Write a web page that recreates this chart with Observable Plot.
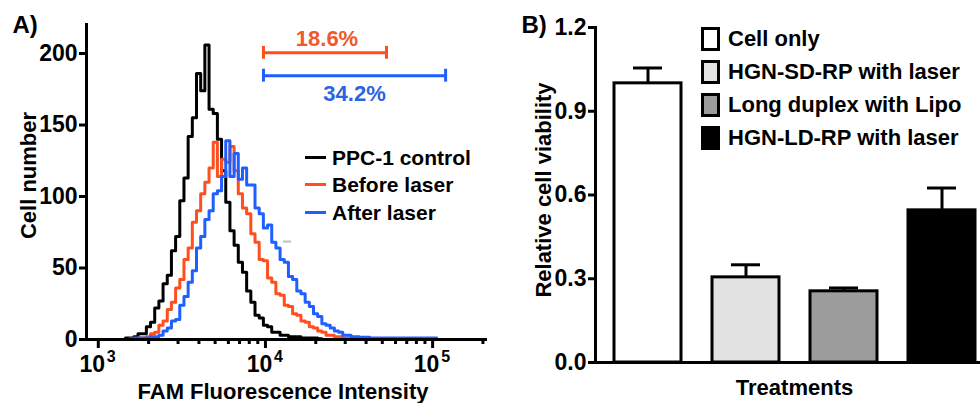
<!DOCTYPE html>
<html><head><meta charset="utf-8">
<script src="https://cdn.jsdelivr.net/npm/d3@7"></script>
<script src="https://cdn.jsdelivr.net/npm/@observablehq/plot@0.6"></script>
<style>
body{margin:0;background:#fff;}
#wrap{position:relative;width:980px;height:403px;overflow:hidden;background:#fff;font-family:"Liberation Sans",Arial,Helvetica,sans-serif;font-weight:bold;color:#000;}
#wrap svg{position:absolute;top:0;}
.row{position:absolute;height:24px;display:flex;align-items:center;white-space:nowrap;font-size:21px;line-height:1;}
.sw{display:inline-block;width:21px;height:3px;margin-right:6px;}
.box{display:inline-block;width:19px;height:24px;box-sizing:border-box;border:3px solid #000;margin-right:8px;}
</style>
</head><body>
<div id="wrap"></div>
<script>
// ---------- Panel A data: FAM fluorescence histogram ----------
const fluorescence = [1413,1496,1585,1679,1778,1884,1995,2113,2239,2371,2512,2661,2818,2985,3162,3350,3548,3758,3981,4217,4467,4732,5012,5309,5623,5957,6310,6683,7079,7499,7943,8414,8913,9441,10000,10593,11220,11885,12589,13335,14125,14962,15849,16788,17783,18836,19953,21135,22387,23714,25119,26607,28184,29854,31623,33497,35481,37584,39811,44668,50119,56234,63096,70795,79433,89125,100000,112202];
const ppc1Control = [0,1,1,2,4,4,9,12,22,27,39,45,62,72,97,113,142,155,186,174,206,161,158,140,118,96,76,66,54,47,34,26,17,15,10,9,5,5,3,3,2,2,2,1,1,1,1,0.5,0,0,0,0,0,0,0,0,0,0,0,0,0,0,0,0,0,0,0,0];
const beforeLaser = [0,0,0,0.5,1,1,2,4,5,10,13,21,26,36,42,56,64,82,90,102,110,120,138,114,126,124,135,118,102,92,88,74,68,56,55,43,40,32,31,24,23,18,17,13,12,9,8,6,5,3,3,2,2,1,1,1,0.5,0.5,0.5,0.5,0.5,0,0,0,0.5,0,0,0];
const afterLaser = [0,0,0.5,1,1,1,1,2,2,3,6,8,13,14,24,30,40,48,64,72,84,90,102,104,114,139,114,130,112,120,108,108,92,88,78,80,68,64,56,54,44,42,34,32,26,23,18,16,11,10,8,6,5,3,3,2,2,1.5,1.5,1,1,1,1,1,1,1,1,0];
const seriesNames = ["PPC-1 control","Before laser","After laser"];
const seriesColors = ["#000000","#ff4f1f","#1f5fff"];
const yTicksA = [0,50,100,150,200];
const xMajorTicks = [1000,10000,100000];
const xMajorExp = ["3","4","5"];
const xMinorTicks = [2000,3000,4000,5000,6000,7000,8000,9000,20000,30000,40000,50000,60000,70000,80000,90000,200000];
const gateLabels = ["18.6%","34.2%"];
const gateStart = [9730, 9730];
const gateEnd = [53000, 119600];
const gateLevel = [200.5, 184.5];
const gateLineColors = ["#ff4f1f","#1f5fff"];
const gateTextColors = ["#ef5a2a","#2b64e3"];
const markerSegment = [{x1: 12830, x2: 14320, y: 68.5}];

// ---------- Panel B data: relative cell viability ----------
const treatments = ["Cell only","HGN-SD-RP with laser","Long duplex with Lipo","HGN-LD-RP with laser"];
const viability = [1.0, 0.305, 0.255, 0.545];
const viabilityErr = [0.055, 0.045, 0.012, 0.08];
const barFills = ["#ffffff","#e2e2e2","#9c9c9c","#000000"];
const yTicksB = [0,0.3,0.6,0.9,1.2];

const FONT = '"Liberation Sans", Arial, Helvetica, sans-serif';
const FS = 22;      // axis titles / annotations
const FT = 23;      // tick labels
const wrap = document.getElementById("wrap");

const gates = gateLabels.map((label,i)=>({label, x1: gateStart[i], x2: gateEnd[i], y: gateLevel[i], c: gateLineColors[i], t: gateTextColors[i]}));
const gateEnds = gates.flatMap(g => [{x: g.x1, y: g.y, c: g.c}, {x: g.x2, y: g.y, c: g.c}]);
const seriesVals = [ppc1Control, beforeLaser, afterLaser];
const T = {fontSize: FS, fontWeight: "bold", textAnchor: "middle", lineAnchor: "middle"};

const A = Plot.plot({
  width: 500, height: 403,
  marginLeft: 86, marginRight: 13, marginTop: 23, marginBottom: 64,
  x: {type: "log", domain: [850, 213000]},
  y: {domain: [0, 221]},
  style: {fontFamily: FONT, fontSize: "22px", fontWeight: "bold", color: "black", background: "transparent", overflow: "visible"},
  marks: [
    Plot.ruleY(markerSegment, {x1: "x1", x2: "x2", y: "y", stroke: "#bdbdbd", strokeWidth: 2}),
    ...seriesVals.map((vals, s) => Plot.line(fluorescence, {x: d => d, y: (d, i) => vals[i], curve: "step", stroke: seriesColors[s], strokeWidth: 3})),
    Plot.ruleY([0], {strokeWidth: 3}),
    Plot.ruleX([850], {strokeWidth: 3}),
    Plot.axisY({ticks: yTicksA, tickSize: 7, tickPadding: 2, strokeWidth: 3, label: null, fontSize: FT, fontWeight: "bold"}),
    Plot.axisX({ticks: xMinorTicks, tickSize: 5, strokeWidth: 3, text: null, label: null}),
    Plot.axisX({ticks: xMajorTicks, tickSize: 9, strokeWidth: 3, text: null, label: null}),
    Plot.text(xMajorTicks, {...T, fontSize: FT, x: d => d, frameAnchor: "bottom", text: () => "10", dx: -6, dy: 25}),
    Plot.text(xMajorTicks, {...T, x: d => d, frameAnchor: "bottom", text: (d, i) => xMajorExp[i], dx: 13, dy: 17, fontSize: 16}),
    Plot.ruleY(gates, {x1: "x1", x2: "x2", y: "y", stroke: "c", strokeWidth: 3}),
    Plot.ruleX(gateEnds, {x: "x", y1: d => d.y - 4.5, y2: d => d.y + 4.5, stroke: "c", strokeWidth: 3}),
    Plot.text([gates[0]], {...T, x: d => Math.sqrt(d.x1 * d.x2), y: "y", text: "label", fill: "t", dy: -14, dx: 2}),
    Plot.text([gates[1]], {...T, x: d => Math.sqrt(d.x1 * d.x2), y: "y", text: "label", fill: "t", dy: 18}),
    Plot.text(["Cell number"], {...T, frameAnchor: "left", rotate: -90, dx: -58, dy: -6}),
    Plot.text(["FAM Fluorescence Intensity"], {...T, frameAnchor: "bottom", dy: 52, dx: -4}),
    Plot.text(["A)"], {...T, fontSize: 24, textAnchor: "start", frameAnchor: "top-left", dx: -74, dy: 2})
  ]
});
A.style.left = "0px";
wrap.appendChild(A);

const barData = treatments.map((t, i) => ({t, v: viability[i], e: viabilityErr[i]}));
const B = Plot.plot({
  width: 500, height: 403,
  marginLeft: 95, marginRight: 7, marginTop: 27, marginBottom: 41,
  x: {domain: treatments, paddingInner: 0.32, paddingOuter: 0.172, axis: null},
  y: {domain: [0, 1.2]},
  color: {domain: treatments, range: barFills},
  style: {fontFamily: FONT, fontSize: "22px", fontWeight: "bold", color: "black", background: "transparent", overflow: "visible"},
  marks: [
    Plot.barY(barData, {x: "t", y: "v", fill: "t", stroke: "black", strokeWidth: 3}),
    Plot.ruleX(barData, {x: "t", y1: "v", y2: d => d.v + d.e, strokeWidth: 3}),
    Plot.tickY(barData, {x: "t", y: d => d.v + d.e, strokeWidth: 3, insetLeft: 19, insetRight: 19}),
    Plot.ruleY([0], {strokeWidth: 3}),
    Plot.frame({anchor: "left", strokeWidth: 3}),
    Plot.axisY({ticks: yTicksB, tickFormat: d3.format(".1f"), tickSize: 7, tickPadding: 2, strokeWidth: 3, label: null, fontSize: FT, fontWeight: "bold"}),
    Plot.text(["Relative cell viability"], {...T, frameAnchor: "left", rotate: -90, dx: -52, dy: -5}),
    Plot.text(["Treatments"], {...T, frameAnchor: "bottom", dy: 25}),
    Plot.text(["B)"], {...T, fontSize: 24, textAnchor: "start", frameAnchor: "top-left", dx: -74, dy: -2})
  ]
});
B.style.left = "500px";
wrap.appendChild(B);

// Legend A (line swatches)
seriesNames.forEach((name, i) => {
  const r = document.createElement("div");
  r.className = "row";
  r.style.left = "305px";
  r.style.top = (145 + i * 27.5) + "px";
  r.innerHTML = `<span class="sw" style="background:${seriesColors[i]}"></span>${name}`;
  wrap.appendChild(r);
});
// Legend B (box swatches)
treatments.forEach((name, i) => {
  const r = document.createElement("div");
  r.className = "row";
  r.style.left = "701px";
  r.style.top = (27 + i * 33) + "px";
  r.style.fontSize = "22px";
  r.innerHTML = `<span class="box" style="background:${barFills[i]}"></span>${name}`;
  wrap.appendChild(r);
});
</script>
</body></html>
